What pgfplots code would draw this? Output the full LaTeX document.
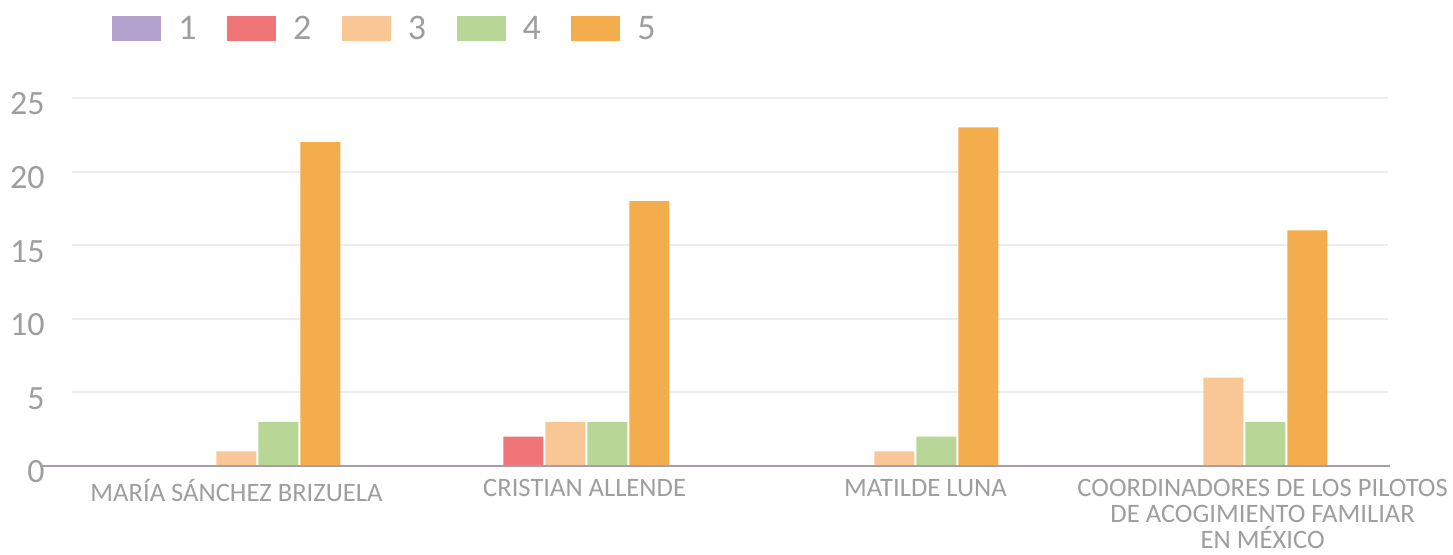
\documentclass[border=0pt]{standalone}
\usepackage{pgfplots}
\pgfplotsset{compat=1.18}
\usepackage{fontspec}
\setmainfont{Carlito}
\definecolor{c1}{HTML}{B2A2CD}
\definecolor{c2}{HTML}{F07577}
\definecolor{c3}{HTML}{F9C795}
\definecolor{c4}{HTML}{B8D797}
\definecolor{c5}{HTML}{F4AD4C}
\definecolor{gridc}{HTML}{EDEDED}
\definecolor{axc}{HTML}{A69DA6}
\definecolor{txt}{HTML}{9E9E9E}
\begin{document}
\begin{tikzpicture}
\begin{axis}[
  scale only axis, width=658pt, height=184pt,
  ybar=1pt, bar width=20pt,
  xmin=-0.5, xmax=3.5, ymin=0, ymax=25,
  ytick={0,5,10,15,20,25},
  xtick={0,1.058,2.094,3.119},
  xticklabels={MARÍA SÁNCHEZ BRIZUELA, CRISTIAN ALLENDE, MATILDE LUNA, {COORDINADORES DE LOS PILOTOS\\DE ACOGIMIENTO FAMILIAR\\EN MÉXICO}},
  ymajorgrids, grid style={gridc, line width=1pt},
  axis line style={draw=none},
  major tick length=0pt,
  /pgf/number format/assume math mode=true,
  yticklabel style={font=\fontsize{17}{17}\selectfont, text=txt, inner sep=0pt, anchor=east, xshift=-13.5pt, yshift=-3pt},
  xticklabel style={font=\fontsize{13.3}{13}\selectfont, text=txt, align=center, inner sep=0pt, anchor=north, yshift=-6.5pt},
  legend columns=-1,
  legend style={at={(0.0258,1.1875)}, anchor=west, draw=none, fill=none,
    font=\fontsize{18}{18}\selectfont, text=txt, nodes={inner sep=0pt},
    /tikz/every odd column/.append style={column sep=8.5pt},
    /tikz/every even column/.append style={column sep=15.25pt}},
  legend image code/.code={\fill[#1] (0pt,-6.25pt) rectangle (24.5pt,6.25pt);},
]
\addplot[fill=c1, draw=none] coordinates {(0,0) (1,0) (2,0) (3,0)};
\addplot[fill=c2, draw=none] coordinates {(0,0) (1,2) (2,0) (3,0)};
\addplot[fill=c3, draw=none] coordinates {(0,1) (1,3) (2,1) (3,6)};
\addplot[fill=c4, draw=none] coordinates {(0,3) (1,3) (2,2) (3,3)};
\addplot[fill=c5, draw=none] coordinates {(0,22) (1,18) (2,23) (3,16)};
\legend{1,2,3,4,5}
\end{axis}
\draw[axc, line width=1pt] (-16pt,0) -- (659pt,0);
\pgfresetboundingbox
\path (-36pt,-44.5pt) rectangle (690.5pt,233pt);
\end{tikzpicture}
\end{document}
